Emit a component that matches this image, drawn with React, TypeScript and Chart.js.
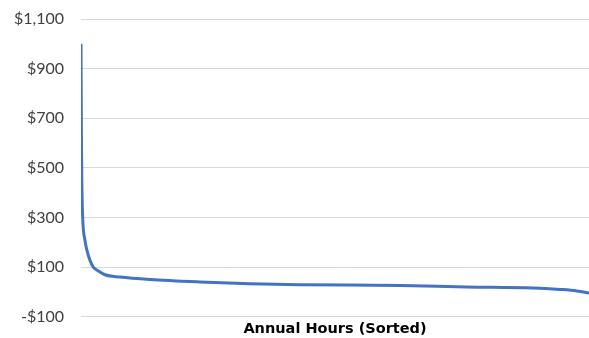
import React, { useEffect, useRef } from "react";
import { Chart, registerables } from "chart.js";

Chart.register(...registerables);

// Sorted annual hours (hour index) and price values ($/MWh)
const hours = [0, 3, 8, 14, 29, 69, 103, 155, 212, 293, 414, 672, 1190, 2052, 2914, 3776, 5500, 6655, 7793, 8259, 8550, 8760];
const prices = [1000, 850, 600, 450, 300, 207, 167, 127, 100, 85, 69, 60, 50, 40, 33, 29, 26, 20, 16, 10, 4, -5];
const yTickMin = -100;
const yTickMax = 1100;
const yTickStep = 200;
const xTitle = "Annual Hours (Sorted)";

const fmt = (v: number) => (v < 0 ? "-$" : "$") + Math.abs(v).toLocaleString("en-US");

export default function App() {
  const ref = useRef<HTMLCanvasElement | null>(null);
  useEffect(() => {
    document.body.style.margin = "0";
    const ctx = ref.current!;
    const chart = new Chart(ctx, {
      type: "line",
      data: {
        datasets: [
          {
            data: hours.map((h, i) => ({ x: h, y: prices[i] })),
            borderColor: "#4472C4",
            borderWidth: 3,
            pointRadius: 0,
            fill: false,
            cubicInterpolationMode: "monotone",
          },
        ],
      },
      options: {
        animation: false,
        responsive: false,
        maintainAspectRatio: false,
        layout: { padding: { top: 19, right: 0, left: 0, bottom: 0 } },
        plugins: { legend: { display: false }, tooltip: { enabled: false } },
        scales: {
          x: {
            type: "linear",
            min: 0,
            max: 8760,
            grid: { display: false, drawTicks: false },
            border: { display: false },
            ticks: { display: false },
            title: {
              display: true,
              text: xTitle,
              color: "#000000",
              font: { family: "DejaVu Sans", size: 14.5, weight: "bold" },
              padding: { top: 0, bottom: 0 },
            },
            afterFit: (scale: any) => {
              scale.height = 21.3;
            },
          },
          y: {
            min: yTickMin,
            max: yTickMax,
            grid: {
              color: "#d9d9d9",
              lineWidth: 1,
              drawTicks: true,
              tickLength: 17,
              tickColor: "rgba(0,0,0,0)",
            },
            border: { display: false },
            ticks: {
              stepSize: yTickStep,
              padding: 0,
              color: "#404040",
              font: { family: "Lato", size: 16 },
              callback: (v: any) => fmt(Number(v)),
            },
            afterFit: (scale: any) => {
              scale.width = 81;
            },
          },
        },
      },
    } as any);
    return () => chart.destroy();
  }, []);
  return (
    <div style={{ position: "absolute", left: 0, top: 0, width: 589, height: 338 }}>
      <canvas ref={ref} width={589} height={338} style={{ width: 589, height: 338 }} />
    </div>
  );
}
